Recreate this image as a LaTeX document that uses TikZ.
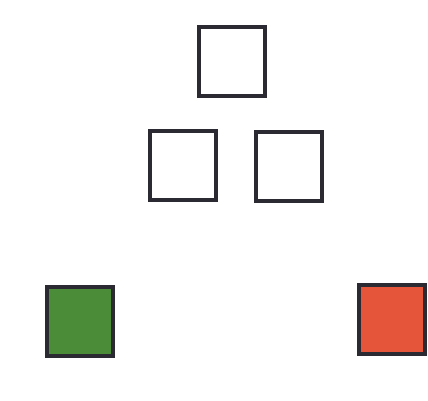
\documentclass[tikz,border=0pt]{standalone}
\definecolor{edge}{HTML}{2B2A33}
\definecolor{leafgreen}{HTML}{4A8C38}
\definecolor{leafred}{HTML}{E4553A}
\begin{document}
\begin{tikzpicture}[x=1pt,y=-1pt,
  sq/.style={draw=edge, line width=4pt, minimum width=66pt, minimum height=69pt, inner sep=0pt, fill=white}]
\useasboundingbox (0,0) rectangle (428,401);
\fill[white] (0,0) rectangle (428,401);
\node[sq] (top) at (231.5,61.5) {};
\node[sq] (midl) at (183,165.5) {};
\node[sq] (midr) at (288.5,166.5) {};
\node[sq, fill=leafgreen] (green) at (80,321) {};
\node[sq, fill=leafred] (red) at (392,319) {};
\end{tikzpicture}
\end{document}
